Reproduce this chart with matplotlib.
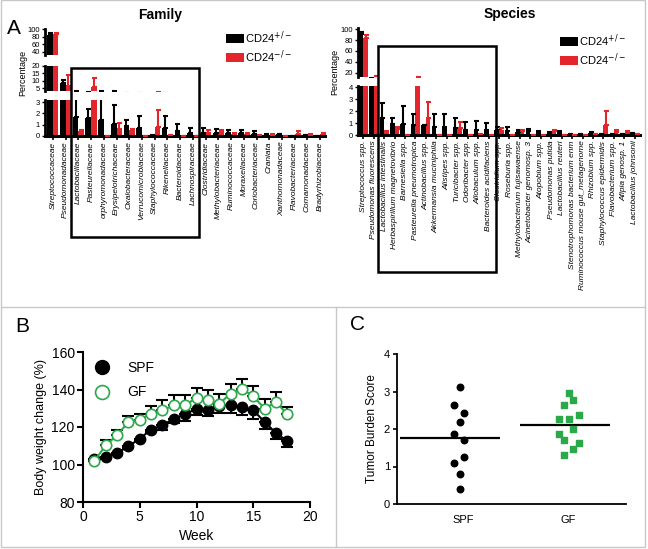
import numpy as np
import matplotlib.pyplot as plt
from matplotlib.patches import Rectangle
from matplotlib.lines import Line2D

plt.rcParams['font.family'] = ['Liberation Sans', 'DejaVu Sans']

RED = '#e3262b'
GREEN = '#2ba84a'
GRAY = '#c8c8c8'
W, H = 648, 549

# panel A, family level (CD24+/- = het, CD24-/- = ko)
family = ['Streptococcaceae', 'Pseudomonadaceae', 'Lactobacillaceae', 'Pasteurellaceae',
          'orphyromonadaceae', 'Erysipelotrichaceae', 'Oxalobacteraceae', 'Verrucomicrobiaceae',
          'Staphylococcaceae', 'Rikenellaceae', 'Bacteroidaceae', 'Lachnospiraceae',
          'Clostridiaceae', 'Methylobacteriaceae', 'Ruminococcaceae', 'Moraxellaceae',
          'Coriobacteriaceae', 'Craniata', 'Xanthomonadaceae', 'Flavobacteriaceae',
          'Comamonadaceae', 'Bradyrhizobiaceae']
fam_het = [84, 8.6, 1.65, 1.6, 1.4, 1.1, 0.9, 0.7, 0.05, 0.7, 0.4, 0.3,
           0.3, 0.3, 0.25, 0.25, 0.2, 0.1, 0.15, 0.02, 0.05, 0.02]
fam_het_err = [6, 1.9, 1.6, 0.8, 1.85, 1.6, 0.5, 1.05, 0, 1.05, 0.65, 0.4,
               0.45, 0.3, 0.3, 0.25, 0.25, 0.05, 0.05, 0, 0, 0]
fam_ko = [87, 6.6, 0.4, 5.9, 0, 0.65, 0.55, 0, 0.8, 0.05, 0, 0,
          0.3, 0.35, 0.15, 0.2, 0.05, 0.1, 0, 0.2, 0.1, 0.15]
fam_ko_err = [3, 7.3, 0.1, 5.7, 0, 0.5, 0.1, 0, 1.5, 0, 0, 0,
              0.25, 0.2, 0.1, 0.1, 0, 0.1, 0, 0.2, 0.1, 0.15]

# panel A, species level
species = ['Streptococcus spp.', 'Pseudomonas fluorescens', 'Lactobacillus intestinalis',
           'Herbaspirillum magnetovibrio', 'Barnesiella spp.', 'Pasteurella pneumotropica',
           'Actinobacillus spp.', 'Akkermansia muciniphila', 'Alistipes spp.', 'Turicibacter spp.',
           'Odoribacter spp.', 'Allobaculum spp.', 'Bacteroides acidifaciens', 'Clostridium spp.',
           'Roseburia spp.', 'Methylobacterium fujisawaense', 'Acinetobacter genomosp. 3',
           'Atopobium spp.', 'Pseudomonas putida', 'Lactobacillus reuteri',
           'Stenotrophomonas bacterium enm', 'Ruminococcus mouse gut_metagenome', 'Rhizobium spp.',
           'Staphylococcus epidermidis', 'Flavobacterium spp.', 'Afipia genosp. 1',
           'Lactobacillus johnsonii']
sp_het = [92, 8, 1.4, 0.9, 0.9, 0.85, 0.8, 0.7, 0.65, 0.6, 0.45, 0.45, 0.4, 0.45,
          0.3, 0.25, 0.3, 0.2, 0.15, 0.2, 0.1, 0.1, 0.15, 0.05, 0.05, 0.05, 0.15]
sp_het_err = [3, 2, 1.3, 0.5, 1.5, 0.9, 0.05, 1.05, 1.1, 0.8, 0.65, 0.75, 0.6, 0.25,
              0.35, 0.2, 0.2, 0.15, 0.1, 0.1, 0, 0, 0.1, 0, 0, 0, 0.05]
sp_ko = [84, 8, 0.25, 0.5, 0, 6, 1.4, 0, 0, 0.6, 0, 0.1, 0, 0.3,
         0, 0.3, 0, 0, 0.3, 0, 0, 0, 0.1, 0.8, 0.25, 0.2, 0.1]
sp_ko_err = [5, 5, 0.05, 0.2, 0, 6.5, 1.4, 0, 0, 0.5, 0, 0, 0, 0.25,
             0, 0.15, 0, 0, 0.15, 0, 0, 0, 0, 1.2, 0.15, 0.1, 0]

# panel B, body weight
weeks = np.arange(1, 19)
spf_bw = [103.1, 104, 106, 109.7, 113.8, 118.6, 121, 124.4, 126.8, 129.8, 128.9, 131,
          132, 130.7, 128.9, 122.7, 116.8, 112.5]
spf_bw_err = [1, 1, 1, 1, 1, 1.5, 2.5, 2.5, 3.5, 3.5, 3, 3.5, 4.5, 4.5, 4.5, 3.5, 3, 3]
gf_bw = [101.9, 110.2, 115.6, 122.7, 123.9, 127.1, 128.9, 131.6, 131.6, 135.6, 134.2, 132.4,
         137.8, 140.4, 136.4, 129.8, 133.3, 126.8]
gf_bw_err = [1, 2.7, 2.7, 3.2, 3.2, 3.9, 5.3, 5.7, 5.3, 5.3, 5.3, 5.3, 5.3, 5.3, 5.3, 5, 5.3, 4]

# panel C, tumor burden
spf_score = [3.12, 2.63, 2.44, 2.19, 1.86, 1.70, 1.25, 1.09, 0.81, 0.41]
spf_jit = [-0.035, -0.086, 0.01, -0.035, -0.086, 0.01, 0.01, -0.086, -0.035, -0.035]
gf_score = [2.97, 2.63, 2.77, 2.26, 2.26, 2.37, 2.0, 1.86, 1.70, 1.62, 1.46, 1.31]
gf_jit = [0.003, -0.044, 0.05, -0.092, 0.003, 0.098, 0.05, -0.092, -0.044, 0.098, 0.05, -0.044]

fig = plt.figure(figsize=(W / 100, H / 100), dpi=100)


def px_axes(x0, y0, x1, y1):
    return fig.add_axes([x0 / W, 1 - y1 / H, (x1 - x0) / W, (y1 - y0) / H])


def draw_bars(ax, het, het_err, ko, ko_err, left=0.5):
    n = len(het)
    x = np.arange(n)
    w = 0.44
    b1 = ax.bar(x - w / 2, het, w, color='black', zorder=2)
    b2 = ax.bar(x + w / 2, ko, w, color=RED, zorder=2)
    ax.errorbar(x - w / 2, het, yerr=[np.zeros(n), het_err], fmt='none', ecolor='black',
                elinewidth=1.5, capsize=1.8, capthick=1.5, zorder=3)
    ax.errorbar(x + w / 2, ko, yerr=[np.zeros(n), ko_err], fmt='none', ecolor=RED,
                elinewidth=1.5, capsize=1.8, capthick=1.5, zorder=3)
    ax.set_xlim(-left, n - left)
    for s in ['top', 'right']:
        ax.spines[s].set_visible(False)
    ax.spines['left'].set_linewidth(2)
    ax.spines['bottom'].set_linewidth(2.2)
    ax.tick_params(axis='y', labelsize=5.5, length=2.5, width=1, pad=1)
    return b1, b2


def upper_segment(ax, ylim, ticks):
    ax.set_ylim(*ylim)
    ax.set_yticks(ticks)
    ax.spines['bottom'].set_visible(False)
    ax.set_xticks([])


def lower_segment(ax, ylim, ticks, names):
    ax.set_ylim(*ylim)
    ax.set_yticks(ticks)
    ax.set_xticks(np.arange(len(names)))
    ax.set_xticklabels(names, rotation=90, fontsize=6, style='italic')
    ax.tick_params(axis='x', length=3, width=1.2, pad=1)


# family broken axes
fa_top = px_axes(45, 29, 325, 55)
fa_mid = px_axes(45, 66, 325, 91)
fa_bot = px_axes(45, 100, 325, 136)
for ax in (fa_top, fa_mid, fa_bot):
    bars = draw_bars(ax, fam_het, fam_het_err, fam_ko, fam_ko_err, left=0.62)
upper_segment(fa_top, (32, 100), [40, 60, 80, 100])
upper_segment(fa_mid, (3, 20), [5, 10, 15, 20])
lower_segment(fa_bot, (0, 3.18), [0, 1, 2, 3], family)

# species broken axes
sp_top = px_axes(358, 28, 640, 77)
sp_bot = px_axes(358, 86, 640, 135)
for ax in (sp_top, sp_bot):
    bars = draw_bars(ax, sp_het, sp_het_err, sp_ko, sp_ko_err)
upper_segment(sp_top, (12, 102.4), [20, 40, 60, 80, 100])
lower_segment(sp_bot, (0, 4.1), [0, 1, 2, 3, 4], species)

labels = [r'CD24$^{+/-}$', r'CD24$^{-/-}$']
for x0, y0 in [(226, 29), (560, 32)]:
    fig.legend(bars, labels, loc='upper left', bbox_to_anchor=(x0 / W, 1 - y0 / H),
               frameon=False, fontsize=8, handlelength=1.6, handleheight=0.9,
               handletextpad=0.1, labelspacing=0.25, borderpad=0, borderaxespad=0)

fig.text(160 / W, 1 - 15 / H, 'Family', ha='center', va='center', fontsize=10, fontweight='bold')
fig.text(510 / W, 1 - 14 / H, 'Species', ha='center', va='center', fontsize=10, fontweight='bold')
fig.text(23 / W, 1 - 73 / H, 'Percentage', ha='center', va='center', rotation=90, fontsize=6.5)
fig.text(335 / W, 1 - 72 / H, 'Percentage', ha='center', va='center', rotation=90, fontsize=6.5)
fig.text(14 / W, 1 - 28 / H, 'A', ha='center', va='center', fontsize=15)

# boxes around the highlighted taxa
for x0, y0, x1, y1 in [(71, 68, 199, 237), (378, 46, 496, 272)]:
    fig.add_artist(Rectangle((x0 / W, 1 - y1 / H), (x1 - x0) / W, (y1 - y0) / H,
                             transform=fig.transFigure, fill=False, edgecolor='black',
                             linewidth=1.8, zorder=10))

# panel B
axb = px_axes(83, 352, 310, 502)
axb.errorbar(weeks, spf_bw, yerr=[spf_bw_err, np.zeros(len(weeks))], fmt='none',
             ecolor='black', elinewidth=1.5, capsize=4.3, capthick=1.5, zorder=2)
axb.errorbar(weeks, gf_bw, yerr=[np.zeros(len(weeks)), gf_bw_err], fmt='none',
             ecolor='black', elinewidth=1.5, capsize=4.3, capthick=1.5, zorder=2)
axb.plot(weeks, spf_bw, color='black', lw=1.5, marker='o', markersize=7.5, zorder=3)
axb.plot(weeks, gf_bw, color=GREEN, lw=1.5, marker='o', markersize=7.5,
         markerfacecolor='white', markeredgecolor=GREEN, markeredgewidth=1.2, zorder=4)
axb.set_xlim(0, 20)
axb.set_ylim(80, 160)
axb.set_xticks([0, 5, 10, 15, 20])
axb.set_yticks([80, 100, 120, 140, 160])
axb.set_xlabel('Week', fontsize=10, labelpad=3)
axb.set_ylabel('Body weight change (%)', fontsize=9, labelpad=3)
for s in ['top', 'right']:
    axb.spines[s].set_visible(False)
for s in ['left', 'bottom']:
    axb.spines[s].set_linewidth(1.5)
axb.tick_params(labelsize=10, length=4, width=1.5, pad=2)
hb = [Line2D([], [], marker='o', ls='none', color='black', markersize=10),
      Line2D([], [], marker='o', ls='none', markerfacecolor='white', markeredgecolor=GREEN,
             markeredgewidth=1.2, markersize=10)]
axb.legend(hb, ['SPF', 'GF'], loc='upper left', bbox_to_anchor=(94 / W, 1 - 361 / H),
           bbox_transform=fig.transFigure, frameon=False, fontsize=10, handlelength=1.2,
           handletextpad=1.2, labelspacing=0.75, borderpad=0, borderaxespad=0)
fig.text(15 / W, 1 - 326 / H, 'B', ha='left', va='center', fontsize=15)

# panel C
axc = px_axes(397, 354, 626, 504)
axc.scatter(np.array(spf_jit), spf_score, s=22, color='black', zorder=3)
axc.scatter(1 + np.array(gf_jit), gf_score, s=22, marker='s', color=GREEN, zorder=3)
axc.hlines(np.mean(spf_score), -0.6, 0.35, color='black', lw=1.6, zorder=2)
axc.hlines(np.mean(gf_score), 0.54, 1.4, color='black', lw=1.6, zorder=2)
axc.set_xlim(-0.63, 1.55)
axc.set_ylim(0, 4)
axc.set_yticks([0, 1, 2, 3, 4])
axc.set_xticks([0, 1])
axc.set_xticklabels(['SPF', 'GF'])
axc.set_ylabel('Tumor Burden Score', fontsize=8.5, labelpad=4)
for s in ['top', 'right']:
    axc.spines[s].set_visible(False)
for s in ['left', 'bottom']:
    axc.spines[s].set_linewidth(1.3)
axc.tick_params(axis='y', labelsize=8, length=3, width=1.2, pad=2)
axc.tick_params(axis='x', labelsize=8, length=0, pad=8)
fig.text(350 / W, 1 - 325 / H, 'C', ha='left', va='center', fontsize=15)

# panel frames
fig.add_artist(Rectangle((1 / W, 1 - 547 / H), 644 / W, 547 / H, transform=fig.transFigure,
                         fill=False, edgecolor=GRAY, linewidth=1))
fig.add_artist(Line2D([1 / W, 645 / W], [1 - 307 / H, 1 - 307 / H], transform=fig.transFigure,
                      color=GRAY, linewidth=1))
fig.add_artist(Line2D([336 / W, 336 / W], [1 - 307 / H, 1 - 547 / H], transform=fig.transFigure,
                      color=GRAY, linewidth=1))

fig.savefig('out.png', dpi=100)
